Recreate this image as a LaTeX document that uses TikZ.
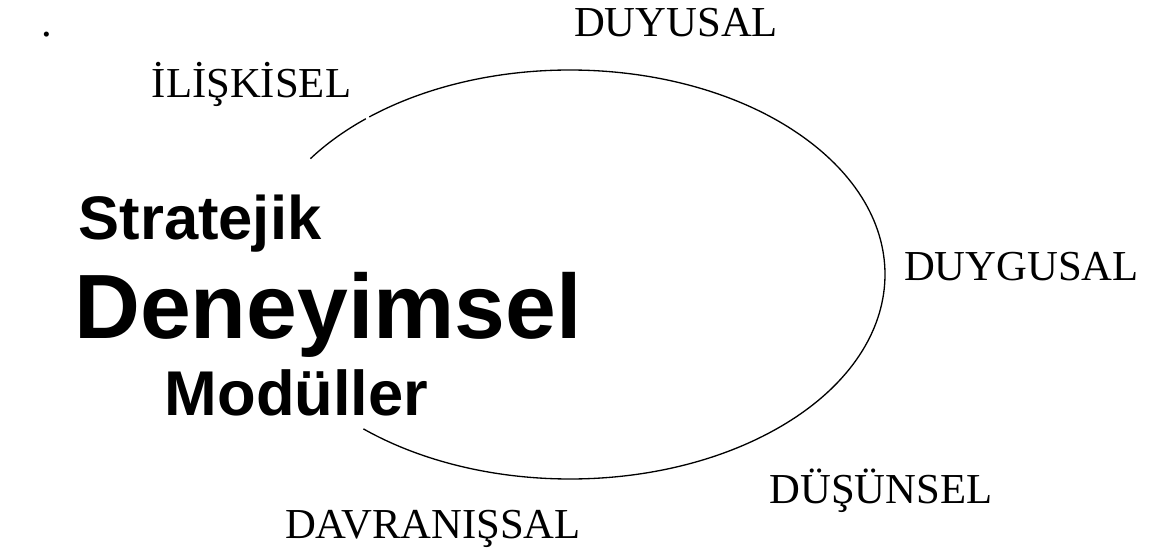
\documentclass[tikz,border=0pt]{standalone}
\usepackage{fontspec}
\setmainfont{Liberation Serif}
\newfontfamily\modsans{Liberation Sans}

\begin{document}
\begin{tikzpicture}[x=0.02cm,y=0.02cm,
    lbl/.style={anchor=base,inner sep=0pt,font=\fontsize{24.3}{28}\selectfont},
    modl/.style={anchor=base,inner sep=0pt,font=\modsans\bfseries\fontsize{#1}{#1}\selectfont}]
  \useasboundingbox (0,0) rectangle (1149,552);
  \coordinate (O) at (570,277.5);
  % outer ring, broken near the top left
  \draw[line width=0.75pt] (O) ++(145.5:315 and 204.5)
    arc[start angle=145.5,end angle=130.4,x radius=315,y radius=204.5];
  \draw[line width=0.75pt] (O) ++(129.6:315 and 204.5)
    arc[start angle=129.6,end angle=-131,x radius=315,y radius=204.5];
  % module names
  \node[lbl] (nokta) at (47,515) {.};
  \node[lbl] (duyu) at (676,515) {DUYUSAL};
  \node[lbl] (iliski) at (251.5,454) {İLİŞKİSEL};
  \node[lbl] (duygu) at (1021.5,272) {DUYGUSAL};
  \node[lbl] (dusun) at (881,49) {DÜŞÜNSEL};
  \node[lbl] (davran) at (433,14) {DAVRANIŞSAL};
  % centre title
  \node[modl=35] (strat) at (200,313) {Stratejik};
  \node[modl=52] (deney) at (328,214) {Deneyimsel};
  \node[modl=36] (modul) at (296.5,137) {Modüller};
\end{tikzpicture}
\end{document}
